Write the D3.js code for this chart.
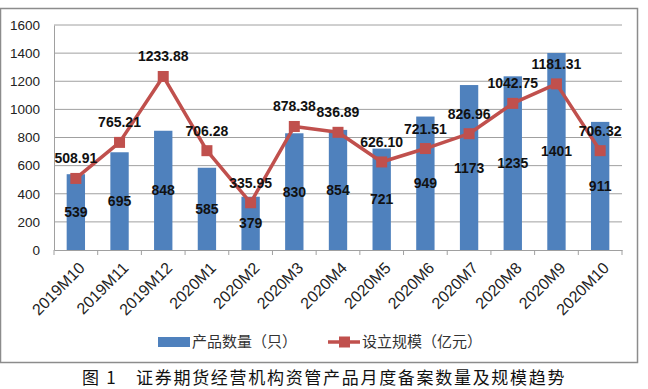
<html lang="zh">
  <head>
    <meta charset="UTF-8" />
    <title>证券期货经营机构资管产品月度备案数量及规模趋势</title>
    <script src="https://d3js.org/d3.v7.min.js"></script>
  </head>
  <style>
    body {
      margin: 0px;
      overflow: hidden;
      background: #fff;
    }
    text {
      font-family: "Liberation Sans", Arial, sans-serif;
    }
  </style>
  <body>
    <svg width="648" height="389"></svg>
  </body>
  <footer>
    <script>
      // data
      var months = ["2019M10", "2019M11", "2019M12", "2020M1", "2020M2", "2020M3", "2020M4",
        "2020M5", "2020M6", "2020M7", "2020M8", "2020M9", "2020M10"];
      var counts = [539, 695, 848, 585, 379, 830, 854, 721, 949, 1173, 1235, 1401, 911];
      var scales = [508.91, 765.21, 1233.88, 706.28, 335.95, 878.38, 836.89, 626.10, 721.51, 826.96, 1042.75, 1181.31, 706.32];
      var yTicks = [0, 200, 400, 600, 800, 1000, 1200, 1400, 1600];
      var seriesNames = ["产品数量（只）", "设立规模（亿元）"];
      var caption = "图 1　证券期货经营机构资管产品月度备案数量及规模趋势";

      var svg = d3.select("svg");
      var blue = "#4f81bd";
      var red = "#c0504d";

      // chart frame
      svg.append("rect")
        .attr("x", 0.5).attr("y", 8.5)
        .attr("width", 637).attr("height", 354)
        .attr("fill", "none")
        .attr("stroke", "#8c8c8c")
        .attr("stroke-width", 1.5);

      var plotLeft = 54, plotRight = 622, plotTop = 25, plotBottom = 250;

      var x = d3.scaleBand().domain(months).range([plotLeft, plotRight]);
      var y = d3.scaleLinear().domain([0, 1600]).range([plotBottom, plotTop]);

      var g = svg.append("g");

      // gridlines
      g.selectAll(".grid")
        .data(yTicks.slice(1))
        .enter()
        .append("line")
        .attr("x1", plotLeft).attr("x2", plotRight)
        .attr("y1", function (d) { return y(d); })
        .attr("y2", function (d) { return y(d); })
        .attr("stroke", "#a0a0a0")
        .attr("stroke-width", 1);

      // y axis
      var yAxis = g.append("g")
        .attr("transform", "translate(" + plotLeft + ",0)")
        .call(d3.axisLeft(y).tickValues(yTicks).tickFormat(d3.format("d")).tickSize(0).tickPadding(14));
      yAxis.select(".domain").attr("stroke", "#a0a0a0");
      yAxis.selectAll("text")
        .attr("font-size", "13.5px")
        .attr("fill", "#222")
        .style("font-family", "'Liberation Sans', Arial, sans-serif");

      // x axis
      var xAxis = g.append("g")
        .attr("transform", "translate(0," + plotBottom + ")")
        .call(d3.axisBottom(x).tickSize(0));
      xAxis.select(".domain").attr("stroke", "#a0a0a0");
      xAxis.selectAll(".tick line").remove();
      xAxis.selectAll(".tick text")
        .attr("font-size", "16px")
        .attr("fill", "#222")
        .style("font-family", "'Liberation Sans', Arial, sans-serif")
        .attr("text-anchor", "end")
        .attr("y", 0)
        .attr("dy", 0)
        .attr("transform", "translate(10,19) rotate(-45)");
      // tick marks at band edges
      xAxis.selectAll(".edge")
        .data(months.concat(["end"]))
        .enter()
        .append("line")
        .attr("x1", function (d, i) { return plotLeft + i * x.bandwidth(); })
        .attr("x2", function (d, i) { return plotLeft + i * x.bandwidth(); })
        .attr("y1", 0).attr("y2", 5)
        .attr("stroke", "#a0a0a0");

      // bars
      var barW = x.bandwidth() * 0.42;
      g.selectAll(".bar")
        .data(counts)
        .enter()
        .append("rect")
        .attr("x", function (d, i) { return x(months[i]) + (x.bandwidth() - barW) / 2; })
        .attr("y", function (d) { return y(d); })
        .attr("width", barW)
        .attr("height", function (d) { return plotBottom - y(d); })
        .attr("fill", blue);

      // line
      var line = d3.line()
        .x(function (d, i) { return x(months[i]) + x.bandwidth() / 2; })
        .y(function (d) { return y(d); });
      g.append("path")
        .datum(scales)
        .attr("d", line)
        .attr("fill", "none")
        .attr("stroke", red)
        .attr("stroke-width", 3.5)
        .attr("stroke-linejoin", "round");

      g.selectAll(".marker")
        .data(scales)
        .enter()
        .append("rect")
        .attr("x", function (d, i) { return x(months[i]) + x.bandwidth() / 2 - 5.5; })
        .attr("y", function (d) { return y(d) - 5.5; })
        .attr("width", 11).attr("height", 11)
        .attr("fill", red);

      // bar labels
      g.selectAll(".barlabel")
        .data(counts)
        .enter()
        .append("text")
        .attr("x", function (d, i) { return x(months[i]) + x.bandwidth() / 2; })
        .attr("y", function (d) { return (y(d) + plotBottom) / 2 + 5; })
        .attr("text-anchor", "middle")
        .attr("font-size", "14px")
        .attr("font-weight", "bold")
        .attr("fill", "#111")
        .text(function (d) { return d; });

      // line labels
      g.selectAll(".linelabel")
        .data(scales)
        .enter()
        .append("text")
        .attr("x", function (d, i) { return x(months[i]) + x.bandwidth() / 2; })
        .attr("y", function (d) { return y(d) - 15; })
        .attr("text-anchor", "middle")
        .attr("font-size", "14px")
        .attr("font-weight", "bold")
        .attr("fill", "#111")
        .text(function (d) { return d.toFixed(2); });

      // legend
      var lg = svg.append("g").attr("transform", "translate(0,342)");
      lg.append("rect")
        .attr("x", 158).attr("y", -5)
        .attr("width", 32).attr("height", 10)
        .attr("fill", blue);
      lg.append("text")
        .attr("x", 192).attr("y", 5)
        .attr("font-size", "15px")
        .attr("fill", "#333")
        .style("font-family", "'Noto Sans CJK SC', sans-serif")
        .text(seriesNames[0]);
      lg.append("line")
        .attr("x1", 328).attr("x2", 360)
        .attr("y1", 0).attr("y2", 0)
        .attr("stroke", red).attr("stroke-width", 3.5);
      lg.append("rect")
        .attr("x", 339).attr("y", -5.5)
        .attr("width", 11).attr("height", 11)
        .attr("fill", red);
      lg.append("text")
        .attr("x", 362).attr("y", 5)
        .attr("font-size", "15px")
        .attr("fill", "#333")
        .style("font-family", "'Noto Sans CJK SC', sans-serif")
        .text(seriesNames[1]);

      // caption
      svg.append("text")
        .attr("x", 82).attr("y", 384)
        .attr("font-size", "17px")
        .attr("letter-spacing", "1.7px")
        .attr("fill", "#111")
        .style("font-family", "'Noto Sans CJK SC', sans-serif")
        .text(caption);
    </script>
  </footer>
</html>
